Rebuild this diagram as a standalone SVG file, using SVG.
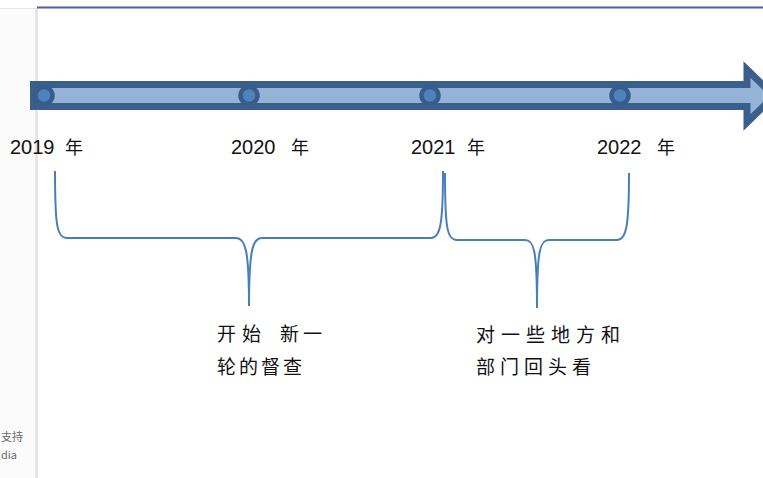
<svg xmlns="http://www.w3.org/2000/svg" width="763" height="478" viewBox="0 0 763 478">
<style>
.yr{font-family:"Liberation Sans","DejaVu Sans",sans-serif;font-size:20px;fill:#111}
.nian{font-family:"Noto Sans CJK SC",sans-serif;font-size:18px;fill:#111}
.lbl{font-family:"Noto Sans CJK SC",sans-serif;font-size:19px;fill:#111}
.brace{fill:none;stroke:#4a7ebb;stroke-width:2}
.dot{fill:#4f81bd;stroke:#385d8a;stroke-width:4.5}
.side{font-family:"Noto Sans CJK SC","Liberation Sans",sans-serif;font-size:11px;fill:#6a6a6a}
</style>
<rect width="763" height="478" fill="#ffffff"/>
<g id="side-panel">
<rect x="0" y="8" width="36" height="470" fill="#fbfbfb"/>
<line x1="0" y1="8.5" x2="37" y2="8.5" stroke="#e6e6e6" stroke-width="1"/>
<line x1="36.5" y1="8" x2="36.5" y2="478" stroke="#e2e2e2" stroke-width="2.5"/>
<text class="side" x="1" y="441">支持</text>
<text class="side" x="1" y="459">dia</text>
</g>
<line x1="37" y1="7.5" x2="763" y2="7.5" stroke="#5b5b95" stroke-width="2"/>
<g id="timeline">
<polygon points="33.5,84.5 747,84.5 747,69.5 774,96 747,122.5 747,106.5 33.5,106.5" fill="#95b3d7" stroke="#3a5f8d" stroke-width="7" stroke-linejoin="miter"/>
</g>
<g id="node-2019"><circle class="dot" cx="44" cy="95.5" r="8.5"/><text class="yr" x="10" y="154">2019</text><text class="nian" x="65" y="154">年</text></g>
<g id="node-2020"><circle class="dot" cx="249" cy="95.5" r="8.5"/><text class="yr" x="231" y="154">2020</text><text class="nian" x="291" y="154">年</text></g>
<g id="node-2021"><circle class="dot" cx="430" cy="95.5" r="8.5"/><text class="yr" x="411" y="154">2021</text><text class="nian" x="467" y="154">年</text></g>
<g id="node-2022"><circle class="dot" cx="620" cy="95.5" r="8.5"/><text class="yr" x="597" y="154">2022</text><text class="nian" x="657" y="154">年</text></g>
<g id="connectors">
<path class="brace" d="M55,171 C55,226 57,238 67,238 L236,238 C245,238 249,248 249,306 C249,248 253,238 262,238 L431,238 C440,238 443,226 443,171"/>
<path class="brace" d="M445,173 C445,228 447,240 457,240 L525,240 C534,240 537,250 537,308 C537,250 540,240 549,240 L617,240 C626,240 629,228 629,173"/>
</g>
<g id="label-1">
<text class="lbl" x="217 242 266 280 300 303" y="341">开始 新 一</text>
<text class="lbl" x="217" y="374" letter-spacing="3">轮的督查</text>
</g>
<g id="label-2">
<text class="lbl" x="476" y="342" letter-spacing="6">对一些地方和</text>
<text class="lbl" x="476" y="374" letter-spacing="5">部门回头看</text>
</g>
</svg>
